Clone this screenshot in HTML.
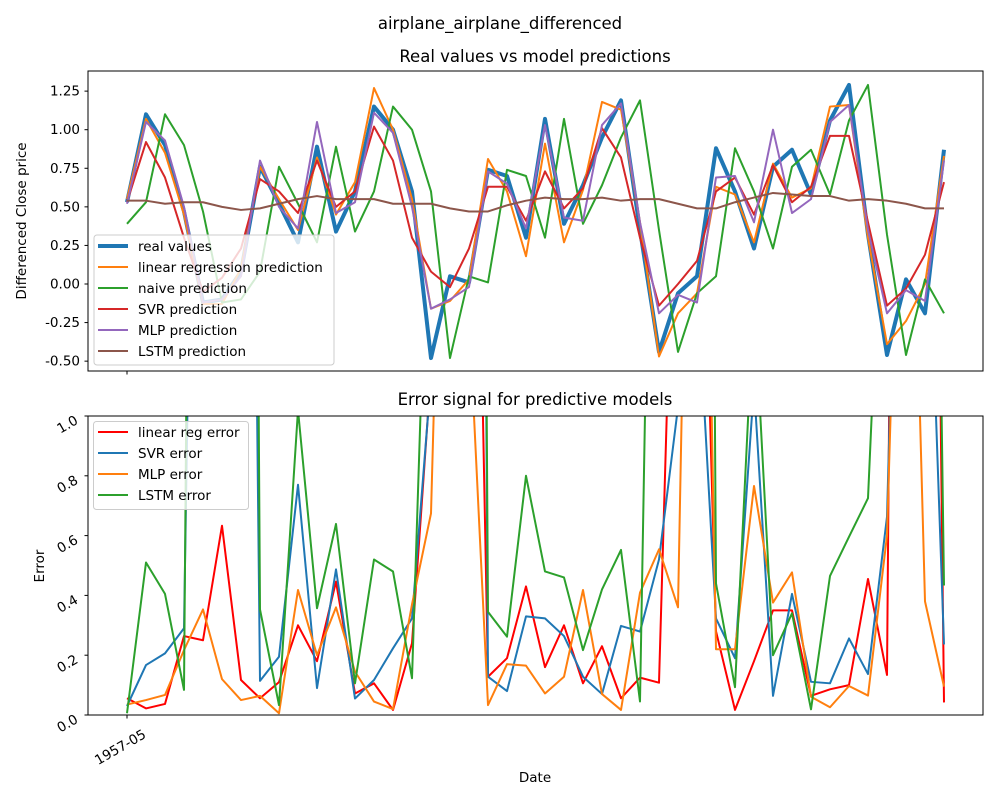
<!DOCTYPE html>
<html><head><meta charset="utf-8"><style>
body{margin:0;background:#fff;}
svg text{font-family:"DejaVu Sans","Liberation Sans",sans-serif;fill:#000;}
</style></head><body>
<svg id="chart" width="1000" height="800" viewBox="0 0 1000 800" xmlns="http://www.w3.org/2000/svg">
<defs>
<clipPath id="c1"><rect x="88" y="71" width="895" height="300"/></clipPath>
<clipPath id="c2"><rect x="88" y="416" width="895" height="299"/></clipPath>
</defs>
<rect width="1000" height="800" fill="#fff"/>
<text x="500" y="29" font-size="16.5" text-anchor="middle">airplane_airplane_differenced</text>
<text x="535" y="62" font-size="16.5" text-anchor="middle">Real values vs model predictions</text>
<text x="535" y="405" font-size="16.5" text-anchor="middle">Error signal for predictive models</text>
<g id="top-lines" clip-path="url(#c1)"></g>
<g id="bot-lines" clip-path="url(#c2)"></g>
<g id="axes"></g>
<rect x="88" y="71" width="895" height="300" fill="none" stroke="#000" stroke-width="1"/>
<rect x="88" y="416" width="895" height="299" fill="none" stroke="#000" stroke-width="1"/>
<text transform="translate(26,221) rotate(-90)" font-size="13.5" text-anchor="middle">Differenced Close price</text>
<text transform="translate(44,566) rotate(-90)" font-size="13.5" text-anchor="middle">Error</text>
<text x="535" y="782" font-size="13.5" text-anchor="middle">Date</text>
<g>
<rect x="94" y="235" width="240" height="130" rx="3" fill="#fff" fill-opacity="0.8" stroke="#ccc"/>
<g id="leg1"></g>
</g>
<g>
<rect x="93.5" y="421.5" width="155" height="88" rx="3" fill="#fff" fill-opacity="0.8" stroke="#ccc"/>
<g id="leg2"></g>
</g>
</svg>
<script>
const dates = ["1957-05"];
const realValues = [0.53,1.1,0.9,0.47,-0.12,-0.1,0.08,0.76,0.52,0.27,0.89,0.34,0.6,1.15,1.0,0.6,-0.48,0.05,0.01,0.74,0.7,0.3,1.07,0.39,0.64,0.95,1.19,0.35,-0.44,-0.06,0.05,0.88,0.6,0.23,0.76,0.87,0.58,1.06,1.29,0.32,-0.46,0.03,-0.19,0.87];
const naiveFirst = 0.39;
const lrPred = [0.55,1.07,0.85,0.45,-0.13,-0.13,0.1,0.76,0.55,0.35,0.82,0.45,0.66,1.27,1.0,0.55,-0.16,-0.11,0.03,0.81,0.6,0.18,0.91,0.27,0.61,1.18,1.13,0.4,-0.47,-0.19,-0.06,0.63,0.58,0.27,0.78,0.56,0.62,1.15,1.16,0.3,-0.39,-0.24,0.0,0.83];
const svrPred = [0.53,0.92,0.69,0.3,-0.05,0.04,0.23,0.68,0.6,0.46,0.8,0.5,0.6,1.02,0.8,0.3,0.08,-0.02,0.23,0.63,0.63,0.41,0.73,0.49,0.62,1.01,0.82,0.3,-0.14,0.0,0.15,0.6,0.69,0.45,0.77,0.53,0.63,0.96,0.96,0.4,-0.14,-0.03,0.19,0.66];
const mlpPred = [0.52,1.05,0.93,0.5,-0.12,-0.1,0.05,0.8,0.5,0.36,1.05,0.46,0.53,1.11,0.98,0.5,-0.16,-0.1,-0.02,0.73,0.65,0.36,1.03,0.43,0.41,1.03,1.17,0.4,-0.19,-0.07,-0.12,0.69,0.7,0.4,1.0,0.46,0.55,1.05,1.16,0.35,-0.19,-0.04,-0.11,0.8];
const lstmPred = [0.54,0.54,0.52,0.53,0.53,0.5,0.48,0.49,0.52,0.55,0.57,0.55,0.55,0.55,0.52,0.52,0.52,0.49,0.47,0.47,0.51,0.54,0.56,0.55,0.55,0.56,0.54,0.55,0.55,0.52,0.49,0.49,0.53,0.56,0.59,0.58,0.57,0.57,0.54,0.55,0.54,0.52,0.49,0.49];
const lrErr = [0.056,0.022,0.037,0.264,0.25,0.633,0.117,0.056,0.11,0.30,0.18,0.446,0.072,0.106,0.017,0.24,1.15,3,3.4,0.128,0.19,0.43,0.16,0.30,0.106,0.23,0.056,0.125,0.108,2.3,2.56,0.28,0.017,0.18,0.35,0.35,0.064,0.086,0.10,0.455,0.134,8,5.5,0.042];
const svrErr = [0.03,0.167,0.206,0.29,4.3,5,6,0.114,0.195,0.77,0.09,0.487,0.055,0.117,0.223,0.323,1.13,5,10,0.128,0.08,0.33,0.323,0.264,0.128,0.07,0.298,0.279,0.52,1.03,1.46,0.323,0.19,1.1,0.064,0.405,0.111,0.106,0.256,0.137,0.663,3,2.05,0.236];
const mlpErr = [0.035,0.05,0.067,0.217,0.353,0.12,0.05,0.064,0.006,0.418,0.2,0.36,0.145,0.045,0.02,0.37,0.674,3,1.345,0.033,0.17,0.165,0.072,0.128,0.418,0.07,0.017,0.409,0.554,0.36,3.7,0.22,0.22,0.766,0.376,0.477,0.061,0.026,0.097,0.065,0.6,2.73,0.38,0.095];
const lstmErr = [0.006,0.51,0.405,0.084,8,8,10,0.353,0.033,1.02,0.357,0.639,0.106,0.52,0.48,0.123,2.1,5,10,0.345,0.262,0.8,0.48,0.46,0.217,0.42,0.552,0.045,3.7,6,10,0.44,0.093,1.4,0.2,0.34,0.019,0.465,0.596,0.725,2.15,6,5,0.433];
const topTicks = [-0.5,-0.25,0,0.25,0.5,0.75,1.0,1.25];
const botTicks = [0,0.2,0.4,0.6,0.8,1.0];

const NS = "http://www.w3.org/2000/svg";
const xs = i => 127 + i * (944 - 127) / (realValues.length - 1);
const yTop = v => 284 - v * 154.3;
const yBot = v => 715 - v * 299;
function mk(tag, attrs, parent){const e=document.createElementNS(NS,tag);for(const k in attrs)e.setAttribute(k,attrs[k]);parent.appendChild(e);return e;}
function pathD(arr, yf){return arr.map((v,i)=>(i?'L':'M')+xs(i).toFixed(2)+','+yf(v).toFixed(2)).join(' ');}
const naivePred = [naiveFirst].concat(realValues.slice(0,-1));
const topG = document.getElementById('top-lines');
const topSeries = [
 ['real-values-line', realValues, '#1f77b4', 4, 'real values'],
 ['linear-regression-line', lrPred, '#ff7f0e', 2, 'linear regression prediction'],
 ['naive-prediction-line', naivePred, '#2ca02c', 2, 'naive prediction'],
 ['svr-prediction-line', svrPred, '#d62728', 2, 'SVR prediction'],
 ['mlp-prediction-line', mlpPred, '#9467bd', 2, 'MLP prediction'],
 ['lstm-prediction-line', lstmPred, '#8c564b', 2, 'LSTM prediction']];
topSeries.forEach(s=>{
 const p = mk('path',{d:pathD(s[1],yTop),fill:'none',stroke:s[2],'stroke-width':s[3],'stroke-linejoin':'round'},topG);
 
 
});
const botG = document.getElementById('bot-lines');
const botSeries = [
 ['linear-reg-error-line', lrErr, '#ff0000', 'linear reg error'],
 ['svr-error-line', svrErr, '#1f77b4', 'SVR error'],
 ['mlp-error-line', mlpErr, '#ff7f0e', 'MLP error'],
 ['lstm-error-line', lstmErr, '#2ca02c', 'LSTM error']];
botSeries.forEach(s=>{
 const p = mk('path',{d:pathD(s[1],yBot),fill:'none',stroke:s[2],'stroke-width':2,'stroke-linejoin':'round'},botG);
 
 
});
const ax = document.getElementById('axes');
topTicks.forEach(t=>{
 const y = yTop(t);
 mk('line',{x1:84.5,x2:88,y1:y,y2:y,stroke:'#000'},ax);
 const tx = mk('text',{x:80,y:y+4.5,'font-size':13.5,'text-anchor':'end'},ax);
 tx.textContent = t.toFixed(2);
 
 
});
botTicks.forEach(t=>{
 const y = yBot(t);
 mk('line',{x1:84.5,x2:88,y1:y,y2:y,stroke:'#000'},ax);
 const tx = mk('text',{transform:'translate(79,'+(y+7)+') rotate(-30)','font-size':13.5,'text-anchor':'end'},ax);
 tx.textContent = t.toFixed(1);
 
 
});
mk('line',{x1:127,x2:127,y1:371,y2:374.5,stroke:'#000'},ax);
mk('line',{x1:127,x2:127,y1:715,y2:718.5,stroke:'#000'},ax);
const xl = mk('text',{transform:'translate(147,737) rotate(-30)','font-size':13.5,'text-anchor':'end'},ax);
xl.textContent = dates[0];


const leg1 = document.getElementById('leg1');
topSeries.forEach((s,i)=>{
 const y = 246 + i*21;
 mk('line',{x1:98,x2:128,y1:y,y2:y,stroke:s[2],'stroke-width':s[3]},leg1);
 const t = mk('text',{x:138,y:y+5,'font-size':13.5},leg1);
 t.textContent = s[4];
 
 
});
const leg2 = document.getElementById('leg2');
botSeries.forEach((s,i)=>{
 const y = 432 + i*21;
 mk('line',{x1:98,x2:128,y1:y,y2:y,stroke:s[2],'stroke-width':2},leg2);
 const t = mk('text',{x:138,y:y+5,'font-size':13.5},leg2);
 t.textContent = s[3];
 
 
});
</script>
</body></html>
